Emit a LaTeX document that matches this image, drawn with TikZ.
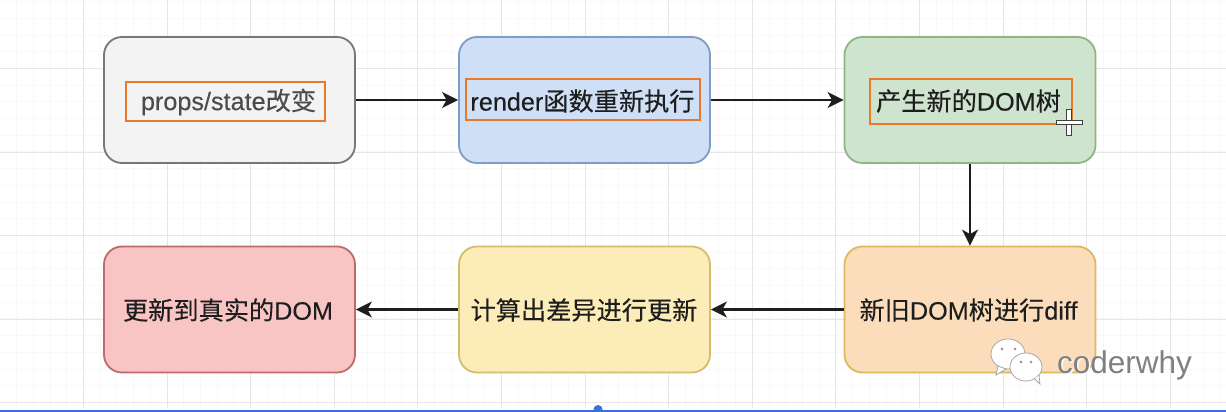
\documentclass[tikz,border=0pt]{standalone}
\usepackage{fontspec}
\setmainfont[FakeBold=0.25]{Liberation Sans}
\newfontfamily\cjk[FakeBold=0.25]{Noto Sans CJK SC}
\newfontfamily\markfont{Liberation Sans}
\usetikzlibrary{arrows.meta}
\definecolor{gridmaj}{HTML}{E6E6E8}
\definecolor{gridmin}{HTML}{F8F8F9}
\definecolor{ink}{HTML}{1E1E1E}
\definecolor{hilite}{HTML}{E8792A}
\definecolor{barblue}{HTML}{3C6FD8}
\definecolor{fa}{HTML}{F3F3F4}\definecolor{da}{HTML}{77777A}
\definecolor{fb}{HTML}{CFDFF6}\definecolor{db}{HTML}{7F9CC4}
\definecolor{fc}{HTML}{CFE4CE}\definecolor{dc}{HTML}{8FB586}
\definecolor{fd}{HTML}{FBDDBB}\definecolor{dd}{HTML}{DDB95C}
\definecolor{fe}{HTML}{FCEDB8}\definecolor{de}{HTML}{D3BC6C}
\definecolor{ff}{HTML}{F8C4C4}\definecolor{df}{HTML}{BC6B68}
\tikzset{
  x=1pt,y=-1pt,
  flowbox/.style 2 args={draw=#1,fill=#2,line width=1.8pt,rounded corners=18pt,minimum width=251pt,minimum height=126pt,inner sep=0pt},
  hibox/.style={draw=hilite,line width=2.2pt,inner sep=0pt},
  label text/.style={font=\fontsize{25.2}{29}\selectfont,text=ink,inner sep=0pt},
  flow/.style={draw=ink,line width=2.3pt,-{Stealth[length=16pt,width=16pt,inset=4.5pt]}},
  minorgrid/.style={draw=gridmin,line width=0.8pt},
  majorgrid/.style={draw=gridmaj,line width=1pt},
  cursor/.style={draw=black!75,fill=white,line width=0.8pt},
  mark text/.style={font=\markfont\fontsize{31.5}{34}\selectfont,text=black!50,inner sep=0pt},
}
\begin{document}
\begin{tikzpicture}
\useasboundingbox (0,0) rectangle (1226,412);
\fill[white] (0,0) rectangle (1226,412);
% grid
\foreach \k in {-4,...,70}{\draw[minorgrid] ({round(83+16.72*\k)+.5},0) -- ({round(83+16.72*\k)+.5},408);}
\foreach \k in {-4,...,20}{\draw[minorgrid] (0,{round(68+16.7*\k)+.5}) -- (1226,{round(68+16.7*\k)+.5});}
\foreach \k in {-1,...,13}{\draw[majorgrid] ({round(83+83.6*\k)+.5},0) -- ({round(83+83.6*\k)+.5},408);}
\foreach \k in {0,...,4}{\draw[majorgrid] (0,{round(68+83.6*\k)+.5}) -- (1226,{round(68+83.6*\k)+.5});}
% bottom bar
\fill[barblue] (0,409.5) rectangle (1226,412);
\fill[barblue] (598,409.5) circle (4.5);
% boxes
\node[flowbox={da}{fa}] (props) at (229.5,100) {};
\node[flowbox={db}{fb}] (render) at (584.5,100) {};
\node[flowbox={dc}{fc}] (newdom) at (970,100) {};
\node[flowbox={dd}{fd}] (diff) at (970,309.5) {};
\node[flowbox={de}{fe}] (calc) at (584.5,309.5) {};
\node[flowbox={df}{ff}] (real) at (229.5,309.5) {};
% highlight frames
\node[hibox,minimum width=199pt,minimum height=39pt] (hp) at (225.5,101.5) {};
\node[hibox,minimum width=234pt,minimum height=41pt] (hr) at (583,99.5) {};
\node[hibox,minimum width=202pt,minimum height=45pt] (hn) at (971,101.5) {};
% texts
\node[label text,text=black!70] (tp) at (228.5,102) {props/state{\cjk 改变}};
\node[label text] (tr) at (582.5,101) {render{\cjk 函数重新执行}};
\node[label text] (tn) at (968.5,101) {{\cjk 产生新的}DOM{\cjk 树}};
\node[label text] (td) at (968.5,310) {{\cjk 新旧}DOM{\cjk 树进行}diff};
\node[label text] (tc) at (584,310) {{\cjk 计算出差异进行更新}};
\node[label text] (te) at (228,310) {{\cjk 更新到真实的}DOM};
% connectors
\draw[flow] (props) -- (render);
\draw[flow] (render) -- (newdom);
\draw[flow] (newdom) -- (diff);
\draw[flow] (diff) -- (calc);
\draw[flow] (calc) -- (real);
% cursor
\path[cursor] (1066.5,109) rectangle (1071.5,135);
\path[cursor] (1056,120) rectangle (1082,124.5);
\fill[white] (1067,120.5) rectangle (1071,124);
% watermark
\fill[white,draw=black!35,line width=0.8pt] (1008,354) ellipse (17 and 15);
\fill[white,draw=black!35,line width=0.8pt] (998,366) -- (996,375) -- (1006,369) -- cycle;
\fill[white,draw=black!35,line width=0.8pt] (1026,367) ellipse (16 and 14);
\fill[white,draw=black!35,line width=0.8pt] (1034,378) -- (1040,384) -- (1039,375) -- cycle;
\fill[white] (1026,367) ellipse (15 and 13);
\fill[black!45] (1002,349) circle (1.3) (1015,349) circle (1.3) (1021,362) circle (1.3) (1031,362) circle (1.3);
\node[mark text,text=white] (wm2) at (1126,366.5) {coderwhy};
\node[mark text] (wm) at (1124.5,365) {coderwhy};
\end{tikzpicture}
\end{document}
